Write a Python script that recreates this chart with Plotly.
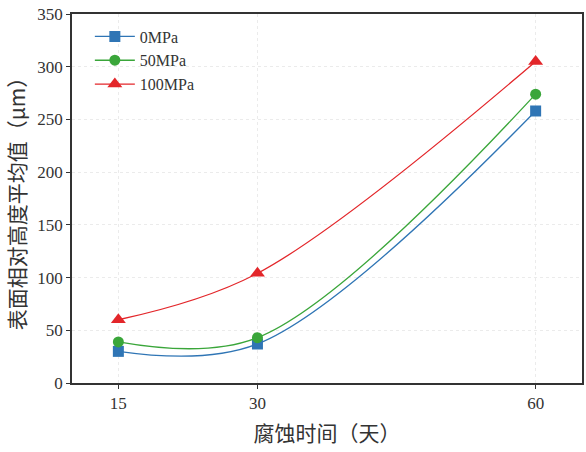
import plotly.graph_objects as go

days = [15, 30, 60]
series_names = ["0MPa", "50MPa", "100MPa"]
h_0mpa = [30, 37, 258]
h_50mpa = [39, 43, 274]
h_100mpa = [60, 104, 305]
x_ticks = [15, 30, 60]
y_ticks = [0, 50, 100, 150, 200, 250, 300, 350]

colors = ["#2f75b5", "#3aa63a", "#e3262a"]
symbols = ["square", "circle", "triangle-up"]
values = [h_0mpa, h_50mpa, h_100mpa]

fig = go.Figure()
for name, vals, c, s in zip(series_names, values, colors, symbols):
    fig.add_trace(go.Scatter(
        x=days, y=vals, name=name, mode="lines+markers",
        line=dict(color=c, width=1.3, shape="spline", smoothing=1.0),
        marker=dict(color=c, symbol=s, size=11 if s != "triangle-up" else 13),
    ))

serif = "Liberation Serif, Times New Roman, serif"
cjk = "Noto Sans CJK SC, sans-serif"

fig.update_layout(
    width=586, height=452,
    margin=dict(l=72, r=2, t=14, b=69),
    paper_bgcolor="white", plot_bgcolor="white",
    font=dict(family=serif, size=17, color="#333"),
    showlegend=True,
    legend=dict(x=0.035, y=0.985, xanchor="left", yanchor="top",
                bgcolor="rgba(0,0,0,0)", font=dict(family=serif, size=16, color="#333"),
                tracegroupgap=0, itemwidth=40),
    xaxis=dict(range=[10, 65], tickvals=x_ticks, ticktext=[str(v) for v in x_ticks],
               showline=True, linecolor="#333", linewidth=1.5, mirror=True,
               ticks="outside", ticklen=4, tickcolor="#333",
               showgrid=True, gridcolor="#ebebeb", griddash="dot", gridwidth=1,
               zeroline=False,
               title=dict(text="腐蚀时间（天）", font=dict(family=cjk, size=21, color="#333"), standoff=14)),
    yaxis=dict(range=[0, 350], tickvals=y_ticks,
               showline=True, linecolor="#333", linewidth=1.5, mirror=True,
               ticks="outside", ticklen=4, tickcolor="#333",
               showgrid=True, gridcolor="#ebebeb", griddash="dot", gridwidth=1,
               zeroline=False,
               title=dict(text="表面相对高度平均值（μm）", font=dict(family=cjk, size=21, color="#333"), standoff=6)),
)

fig.write_html("out.html")
